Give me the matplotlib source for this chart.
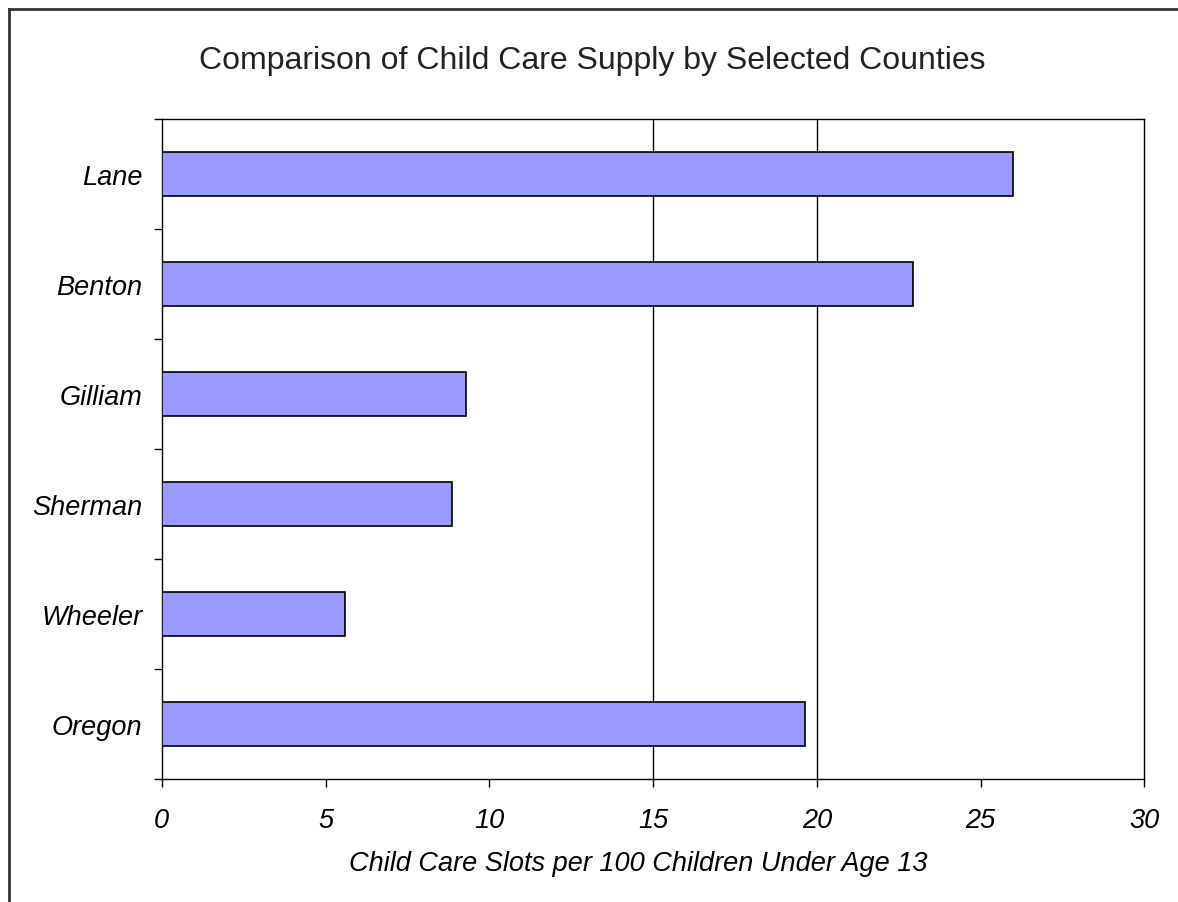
import matplotlib.pyplot as plt
import numpy as np
from matplotlib.lines import Line2D

counties = ["Lane", "Benton", "Gilliam", "Sherman", "Wheeler", "Oregon"]
slots = [26.0, 22.95, 9.28, 8.86, 5.6, 19.63]
xticks = [0, 5, 10, 15, 20, 25, 30]
gridlines = [15, 20]

plt.rcParams["font.family"] = ["Liberation Sans", "DejaVu Sans"]

fig = plt.figure(figsize=(11.78, 9.03), dpi=100)
ax = fig.add_axes([0.1373, 0.1365, 0.8341, 0.7306])

y = np.arange(len(counties))
ax.barh(y, slots, height=0.4, color="#9999ff", edgecolor="black",
        linewidth=1.2, zorder=3)
for g in gridlines:
    ax.axvline(g, color="black", linewidth=1, zorder=1)

ax.set_xlim(0, 30)
ax.set_ylim(len(counties) - 0.5, -0.5)

ax.set_xticks(xticks)
ax.set_xticklabels([str(t) for t in xticks], fontsize=19.5, style="italic")
ax.set_yticks(y)
ax.set_yticklabels(counties, fontsize=19.5, style="italic")
ax.set_yticks(np.arange(len(counties) + 1) - 0.5, minor=True)

ax.tick_params(axis="x", direction="out", length=6, width=1, pad=14)
ax.tick_params(axis="y", which="major", length=0, pad=14)
ax.tick_params(axis="y", which="minor", direction="out", length=6, width=1)

for s in ax.spines.values():
    s.set_linewidth(1)
    s.set_color("black")

ax.set_xlabel("Child Care Slots per 100 Children Under Age 13",
              fontsize=19.5, style="italic")
ax.xaxis.set_label_coords(0.485, -0.108)

fig.text(0.503, 0.933, "Comparison of Child Care Supply by Selected Counties",
         ha="center", va="center", fontsize=23, color="#222222")

# outer frame (left and top edges)
fx = 8.5 / 1178
fy = 1 - 9.5 / 903
fig.add_artist(Line2D([fx, fx], [0, fy], transform=fig.transFigure,
                      color="#333333", linewidth=2))
fig.add_artist(Line2D([fx, 1], [fy, fy], transform=fig.transFigure,
                      color="#333333", linewidth=2))

fig.savefig("out.png", dpi=100)
